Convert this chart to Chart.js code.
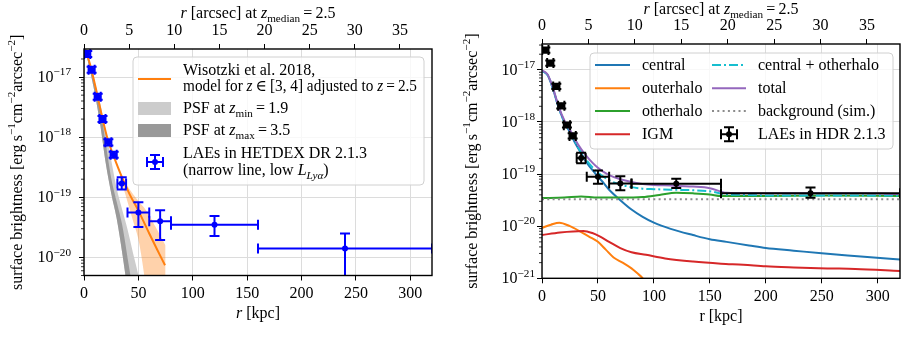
<!DOCTYPE html>
<html><head><meta charset="utf-8">
<script src="https://cdn.jsdelivr.net/npm/chart.js@4.4.1/dist/chart.umd.min.js"></script>
<style>
html,body{margin:0;padding:0;background:#fff;width:920px;height:339px;overflow:hidden}
canvas{position:absolute;top:0}
#c1{left:0}#c2{left:460px}
</style></head><body>
<canvas id="c1" width="460" height="339"></canvas>
<canvas id="c2" width="460" height="339"></canvas>
<script>
// ---------- axis ticks ----------
const xTicksKpc = [0,50,100,150,200,250,300];
const xTicksArcsec = [0,5,10,15,20,25,30,35];
const yTickExpLeft = [-20,-19,-18,-17];
const yTickExpRight = [-21,-20,-19,-18,-17];
const kpcPerArcsec = 8.3;

// ---------- left panel: HETDEX DR 2.1.3 LAEs ----------
const laeR    = [3,7,12.6,17,22.4,27.3,34.7,50,70,120,240];
const laeRlo  = [0.2,4.2,9.8,14.2,19.6,24.5,30.7,40,60,80,160];
const laeRhi  = [5.8,9.8,15.4,19.8,25.2,30.1,38.7,60,80,160,320];
const laeSB   = [2.42e-17,1.32e-17,4.7e-18,2.0e-18,8.2e-19,5.1e-19,1.7e-19,5.6e-20,4.0e-20,3.5e-20,1.4e-20];
const laeSBhi = [2.72e-17,1.48e-17,5.3e-18,2.25e-18,9.2e-19,5.7e-19,2.15e-19,8.3e-20,6.1e-20,4.9e-20,2.5e-20];
const laeSBlo = [2.16e-17,1.18e-17,4.2e-18,1.78e-18,7.3e-19,4.55e-19,1.35e-19,3.2e-20,1.95e-20,2.26e-20,1e-23];

// Wisotzki et al. 2018 model
const wisR  = [0.5,3,7,12,17,22,27,35,42,50,60,67,74.5];
const wisSB = [2.69e-17,2.29e-17,1.29e-17,5.25e-18,2.04e-18,8.9e-19,5.0e-19,2.14e-19,1.12e-19,6.0e-20,2.5e-20,1.38e-20,7.4e-21];
const wisBandR  = [33,38,42,46,50,55,60,66,70,75];
const wisBandHi = [2.5e-19,1.74e-19,1.35e-19,1.07e-19,8.7e-20,6.8e-20,5.0e-20,3.16e-20,2.34e-20,1.58e-20];
const wisBandLo = [2.24e-19,1.12e-19,6.3e-20,3.55e-20,2.0e-20,5.6e-21,1e-21,1e-22,1e-22,1e-22];

// PSF bands
const psfR = [0,5,10,15,20,25,30,35,40,45,50,55,60];
const psfMinZHi = [4.47e-17,1.91e-17,8.3e-18,3.55e-18,1.26e-18,4.17e-19,1.41e-19,6.3e-20,2.95e-20,1.2e-20,5.0e-21,1.58e-21,3.2e-22];
const psfMaxZHi = [3.98e-17,1.66e-17,6.8e-18,2.88e-18,7.9e-19,2.09e-19,8.5e-20,3.55e-20,1.0e-20,2.63e-21,5e-22,1e-22,1e-22];
const psfLo     = [3.55e-17,1.41e-17,5.25e-18,1.58e-18,3.7e-19,1.17e-19,4.47e-20,1.23e-20,2.75e-21,4e-22,1e-22,1e-22,1e-22];

// ---------- right panel: HDR 2.1.3 LAEs + simulation ----------
const hdrR    = [3,7.4,12.8,17.2,22.3,27.4,35,50,70,120,240];
const hdrRlo  = [0.2,4.6,10,14.4,19.5,24.6,31,40,60,80,160];
const hdrRhi  = [5.8,10.2,15.6,20,25.1,30.2,39,60,80,160,320];
const hdrSB   = [2.4e-17,1.35e-17,4.8e-18,2.04e-18,8.7e-19,5.4e-19,2.04e-19,8.9e-20,6.6e-20,6.5e-20,4.3e-20];
const hdrSBhi = [2.7e-17,1.51e-17,5.4e-18,2.29e-18,9.8e-19,6.1e-19,2.57e-19,1.17e-19,9.1e-20,8.1e-20,5.5e-20];
const hdrSBlo = [2.14e-17,1.2e-17,4.3e-18,1.82e-18,7.8e-19,4.8e-19,1.62e-19,6.5e-20,4.9e-20,5.4e-20,3.5e-20];

const modR = [0,5,10,15,20,25,30,35,40,45,50,55,60,70,80,90,100,115,135,150,165,185,200,225,250,285,320];
const centralSB = [9.55e-18,7.94e-18,4.17e-18,1.86e-18,1.0e-18,6.31e-19,3.8e-19,2.51e-19,1.66e-19,1.2e-19,8.9e-20,6.76e-20,5.0e-20,3.16e-20,2.09e-20,1.51e-20,1.17e-20,8.9e-21,6.76e-21,5.62e-21,5.0e-21,4.27e-21,3.8e-21,3.39e-21,3.02e-21,2.63e-21,2.29e-21];
const centralOtherSB = [9.55e-18,7.94e-18,4.17e-18,1.86e-18,1.0e-18,6.46e-19,3.98e-19,2.63e-19,1.82e-19,1.35e-19,1.07e-19,8.9e-20,7.59e-20,6.31e-20,5.62e-20,5.25e-20,5.13e-20,5.01e-20,4.9e-20,4.68e-20,4.07e-20,3.98e-20,3.89e-20,3.89e-20,3.89e-20,3.89e-20,3.89e-20];
const totalSB = [9.77e-18,8.13e-18,4.37e-18,1.95e-18,1.07e-18,7.08e-19,4.47e-19,3.02e-19,2.19e-19,1.66e-19,1.32e-19,1.1e-19,9.55e-20,7.94e-20,7.08e-20,6.46e-20,6.17e-20,6.03e-20,5.75e-20,5.37e-20,4.37e-20,4.27e-20,4.27e-20,4.27e-20,4.27e-20,4.27e-20,4.17e-20];
const otherR  = [0,20,35,50,70,90,105,120,135,150,160,180,200,250,320];
const otherSB = [3.47e-20,3.55e-20,3.72e-20,3.55e-20,3.55e-20,3.63e-20,3.98e-20,4.37e-20,4.27e-20,4.07e-20,3.8e-20,3.8e-20,3.8e-20,3.89e-20,3.8e-20];
const outerR  = [0,8,15.5,25,34,42,50,57,64,72,80,85,90,96];
const outerSB = [9.33e-21,1.07e-20,1.17e-20,1.0e-20,7.94e-21,6.31e-21,5.01e-21,3.55e-21,2.51e-21,2.0e-21,1.55e-21,1.26e-21,1.0e-21,6.3e-22];
const igmR  = [0,16,37,45,52,60,70,80,93,110,135,160,180,200,225,255,280,320];
const igmSB = [6.76e-21,7.59e-21,8.13e-21,7.41e-21,6.31e-21,5.01e-21,3.8e-21,3.16e-21,2.82e-21,2.4e-21,2.09e-21,1.91e-21,1.82e-21,1.7e-21,1.62e-21,1.55e-21,1.51e-21,1.38e-21];
const bgR  = [0,320];
const bgSB = [3.3e-20,3.3e-20];

// ---------- helpers ----------
const SER = '"Liberation Serif","DejaVu Serif",serif';
const FS = 16;
const C = {blue:'#1f77b4',orange:'#ff7f0e',green:'#2ca02c',red:'#d62728',purple:'#9467bd',cyan:'#17becf'};
function pts(xs, ys){ return xs.map((x,i)=>({x:x, y:ys[i]})); }
function fnt(size, it){ return (it?'italic ':'')+size+'px '+SER; }
function rw(ctx, parts, S){ let w=0; for(const p of parts){ ctx.font=fnt(p.s?S*0.7:S,p.i); w+=ctx.measureText(p.t).width; } return w; }
function rich(ctx, parts, x, y, S, align, maxW){
  const w0 = rw(ctx, parts, S);
  const k = (maxW && w0>maxW) ? maxW/w0 : 1;
  const w = w0*k;
  let cx = align==='center' ? x-w/2 : align==='right' ? x-w : x;
  ctx.save(); ctx.translate(cx,y); ctx.scale(k,1);
  ctx.textAlign='left'; ctx.textBaseline='alphabetic'; ctx.fillStyle='#000';
  let px=0;
  for(const p of parts){
    const sz = p.s?S*0.7:S; ctx.font=fnt(sz,p.i);
    const dy = p.s==='sub' ? S*0.22 : p.s==='sup' ? -S*0.42 : 0;
    ctx.fillText(p.t, px, dy); px += ctx.measureText(p.t).width;
  }
  ctx.restore();
}
function seg(ctx,x0,y0,x1,y1,col,lw,dash){ ctx.save(); ctx.strokeStyle=col; ctx.lineWidth=lw; ctx.setLineDash(dash||[]); ctx.beginPath(); ctx.moveTo(x0,y0); ctx.lineTo(x1,y1); ctx.stroke(); ctx.restore(); }
function rbox(ctx,x,y,w,h,r){
  ctx.save(); ctx.beginPath(); ctx.moveTo(x+r,y); ctx.arcTo(x+w,y,x+w,y+h,r); ctx.arcTo(x+w,y+h,x,y+h,r); ctx.arcTo(x,y+h,x,y,r); ctx.arcTo(x,y,x+w,y,r); ctx.closePath();
  ctx.fillStyle='rgba(255,255,255,0.8)'; ctx.fill(); ctx.strokeStyle='#d0d0d0'; ctx.lineWidth=1; ctx.stroke(); ctx.restore();
}
function errSym(ctx,x,y,col){
  ctx.save(); ctx.strokeStyle=col; ctx.lineWidth=2; ctx.beginPath();
  ctx.moveTo(x-8,y); ctx.lineTo(x+8,y); ctx.moveTo(x,y-7); ctx.lineTo(x,y+7);
  ctx.moveTo(x-8,y-5); ctx.lineTo(x-8,y+5); ctx.moveTo(x+8,y-5); ctx.lineTo(x+8,y+5);
  ctx.moveTo(x-5,y-7); ctx.lineTo(x+5,y-7); ctx.moveTo(x-5,y+7); ctx.lineTo(x+5,y+7);
  ctx.stroke(); ctx.fillStyle=col; ctx.beginPath(); ctx.arc(x,y,3,0,Math.PI*2); ctx.fill(); ctx.restore();
}
const TS = '\u2009';
const yTitle = [{t:'surface brightness [erg'+TS+'s'},{t:'\u22121',s:'sup'},{t:'cm'},{t:'\u22122',s:'sup'},{t:'arcsec'},{t:'\u22122',s:'sup'},{t:']'}];
const topTitle = [{t:'r',i:1},{t:' [arcsec] at '},{t:'z',i:1},{t:'median',s:'sub'},{t:TS+'='+TS+'2.5'}];

function deco(P){
  return {
    id:'deco',
    afterDatasetsDraw(chart){
      const ctx=chart.ctx, xs=chart.scales.x, ys=chart.scales.y, a=chart.chartArea, E=P.err;
      ctx.save(); ctx.beginPath(); ctx.rect(a.left,a.top,a.right-a.left,a.bottom-a.top); ctx.clip();
      ctx.strokeStyle=E.color; ctx.lineWidth=2; const cap=5;
      for(let i=0;i<E.r.length;i++){
        const x=xs.getPixelForValue(E.r[i]), y=ys.getPixelForValue(E.sb[i]);
        const x0=xs.getPixelForValue(E.rlo[i]), x1=xs.getPixelForValue(E.rhi[i]);
        const y0=ys.getPixelForValue(E.sblo[i]), y1=ys.getPixelForValue(E.sbhi[i]);
        ctx.beginPath();
        ctx.moveTo(x0,y); ctx.lineTo(x1,y); ctx.moveTo(x,y0); ctx.lineTo(x,y1);
        ctx.moveTo(x0,y-cap); ctx.lineTo(x0,y+cap); ctx.moveTo(x1,y-cap); ctx.lineTo(x1,y+cap);
        ctx.moveTo(x-cap,y0); ctx.lineTo(x+cap,y0); ctx.moveTo(x-cap,y1); ctx.lineTo(x+cap,y1);
        ctx.stroke();
      }
      ctx.restore();
    },
    afterDraw(chart){
      const ctx=chart.ctx, ys=chart.scales.y, a=chart.chartArea;
      ctx.save(); ctx.strokeStyle='#000'; ctx.lineWidth=0.8;
      for(let e=-23;e<=-16;e++) for(let k=2;k<=9;k++){
        const v=k*Math.pow(10,e); if(v<P.yMin||v>P.yMax) continue;
        const py=ys.getPixelForValue(v); ctx.beginPath(); ctx.moveTo(a.left-3,py); ctx.lineTo(a.left,py); ctx.stroke();
      }
      ctx.restore();
      ctx.save(); ctx.strokeStyle='#000'; ctx.lineWidth=1.4; ctx.strokeRect(a.left,a.top,a.right-a.left,a.bottom-a.top); ctx.restore();
      for(const e of P.yExps){
        const py=ys.getPixelForValue(Math.pow(10,e));
        rich(ctx,[{t:'10'},{t:'\u2212'+(-e),s:'sup'}],a.left-P.yLabGap,py+5,FS,'right');
      }
      ctx.save(); ctx.translate(P.yTitleX,(a.top+a.bottom)/2); ctx.rotate(-Math.PI/2);
      rich(ctx,yTitle,0,0,FS,'center'); ctx.restore();
      rich(ctx,topTitle,(a.left+a.right)/2,P.topTitleY,FS,'center');
      rich(ctx,P.xTitle,(a.left+a.right)/2,P.xTitleY,FS,'center');
      P.legend(ctx);
    }
  };
}

function panel(id, P){
  const W=460, H=339;
  const gridBase = {color:'#dcdcdc',lineWidth:1,drawTicks:true,tickLength:5,tickColor:'#000',tickWidth:1};
  return new Chart(document.getElementById(id), {
    type:'scatter',
    data:{datasets:P.datasets},
    options:{
      responsive:false, animation:false, devicePixelRatio:1, events:[],
      layout:{padding:{left:0,top:0,right:W-P.area.right,bottom:0}},
      plugins:{legend:{display:false},tooltip:{enabled:false}},
      scales:{
        x:{type:'linear',position:'bottom',min:0,max:320,
          afterBuildTicks:s=>{s.ticks=xTicksKpc.map(v=>({value:v}));},
          afterFit:s=>{s.height=H-P.area.bottom;},
          ticks:{font:{family:SER,size:FS},color:'#000',padding:P.xPad,autoSkip:false,maxRotation:0,includeBounds:false},
          grid:gridBase, border:{display:false}},
        x2:{type:'linear',position:'top',min:0,max:320/kpcPerArcsec,
          afterBuildTicks:s=>{s.ticks=xTicksArcsec.map(v=>({value:v}));},
          afterFit:s=>{s.height=P.area.top;},
          ticks:{font:{family:SER,size:FS},color:'#000',padding:P.x2Pad,autoSkip:false,maxRotation:0,includeBounds:false},
          grid:Object.assign({},gridBase,{drawOnChartArea:false}), border:{display:false}},
        y:{type:'logarithmic',position:'left',min:P.yMin,max:P.yMax,
          afterBuildTicks:s=>{s.ticks=P.yExps.map(e=>({value:Math.pow(10,e)}));},
          afterFit:s=>{s.width=P.area.left;},
          ticks:{display:false},
          grid:gridBase, border:{display:false}}
      }
    },
    plugins:[deco(P)]
  });
}

function lineDS(xs,ys,col,order,extra){
  return Object.assign({type:'scatter',data:pts(xs,ys),showLine:true,borderColor:col,backgroundColor:col,borderWidth:2,pointRadius:0,cubicInterpolationMode:'monotone',order:order,fill:false},extra||{});
}

// ---------- left panel ----------
panel('c1',{
  area:{left:84,right:432,top:49,bottom:275.5},
  yMin:5e-21, yMax:2.93e-17, yExps:yTickExpLeft, yLabGap:13, yTitleX:22,
  xPad:4, x2Pad:4, topTitleY:18, xTitleY:318,
  xTitle:[{t:'r',i:1},{t:' [kpc]'}],
  err:{r:laeR,rlo:laeRlo,rhi:laeRhi,sb:laeSB,sblo:laeSBlo,sbhi:laeSBhi,color:'#0000ff'},
  datasets:[
    {type:'scatter',data:pts(laeR,laeSB),pointRadius:3,pointBackgroundColor:'#0000ff',pointBorderWidth:0,order:0},
    lineDS(wisR,wisSB,C.orange,1),
    lineDS(wisBandR,wisBandHi,'rgba(0,0,0,0)',2,{borderWidth:0,fill:3,backgroundColor:'rgba(255,127,14,0.35)'}),
    lineDS(wisBandR,wisBandLo,'rgba(0,0,0,0)',3,{borderWidth:0}),
    lineDS(psfR,psfMaxZHi,'rgba(0,0,0,0)',4,{borderWidth:0,fill:6,backgroundColor:'#999999'}),
    lineDS(psfR,psfMinZHi,'rgba(0,0,0,0)',5,{borderWidth:0,fill:6,backgroundColor:'#cccccc'}),
    lineDS(psfR,psfLo,'rgba(0,0,0,0)',6,{borderWidth:0})
  ],
  legend(ctx){
    rbox(ctx,133,57,291,128,4);
    seg(ctx,138,79,171,79,C.orange,2);
    rich(ctx,[{t:'Wisotzki et al. 2018,'}],183,75,FS,'left');
    rich(ctx,[{t:'model for '},{t:'z',i:1},{t:TS+'\u2208'+TS+'[3, 4] adjusted to '},{t:'z',i:1},{t:TS+'='+TS+'2.5'}],183,91,FS,'left',234);
    ctx.fillStyle='#cccccc'; ctx.fillRect(138,102,33,13);
    rich(ctx,[{t:'PSF at '},{t:'z',i:1},{t:'min',s:'sub'},{t:TS+'='+TS+'1.9'}],183,113,FS,'left');
    ctx.fillStyle='#999999'; ctx.fillRect(138,124,33,13);
    rich(ctx,[{t:'PSF at '},{t:'z',i:1},{t:'max',s:'sub'},{t:TS+'='+TS+'3.5'}],183,135,FS,'left');
    errSym(ctx,155,162,'#0000ff');
    rich(ctx,[{t:'LAEs in HETDEX DR 2.1.3'}],183,158,FS,'left');
    rich(ctx,[{t:'(narrow line, low '},{t:'L',i:1},{t:'Ly\u03b1',s:'sub',i:1},{t:')'}],183,175,FS,'left');
  }
});

// ---------- right panel ----------
panel('c2',{
  area:{left:82,right:440,top:44,bottom:278.3},
  yMin:1e-21, yMax:3.14e-17, yExps:yTickExpRight, yLabGap:7, yTitleX:17,
  xPad:4, x2Pad:4, topTitleY:14, xTitleY:321,
  xTitle:[{t:'r [kpc]'}],
  err:{r:hdrR,rlo:hdrRlo,rhi:hdrRhi,sb:hdrSB,sblo:hdrSBlo,sbhi:hdrSBhi,color:'#000'},
  datasets:[
    {type:'scatter',data:pts(hdrR,hdrSB),pointRadius:3,pointBackgroundColor:'#000',pointBorderWidth:0,order:0},
    lineDS(bgR,bgSB,'#8c8c8c',1,{borderDash:[2,3.3]}),
    lineDS(modR,totalSB,C.purple,2),
    lineDS(modR,centralOtherSB,C.cyan,3,{borderDash:[9,3,2,3]}),
    lineDS(igmR,igmSB,C.red,4),
    lineDS(otherR,otherSB,C.green,5),
    lineDS(outerR,outerSB,C.orange,6),
    lineDS(modR,centralSB,C.blue,7)
  ],
  legend(ctx){
    rbox(ctx,130,53,303,96,4);
    const rows=[65,88.3,111,134.3];
    const c1=[['central',C.blue],['outerhalo',C.orange],['otherhalo',C.green],['IGM',C.red]];
    c1.forEach((d,i)=>{ seg(ctx,135,rows[i],170,rows[i],d[1],2); rich(ctx,[{t:d[0]}],182,rows[i]+5,FS,'left'); });
    seg(ctx,252,rows[0],286,rows[0],C.cyan,2,[9,3,2,3]);
    rich(ctx,[{t:'central + otherhalo'}],298,rows[0]+5,FS,'left');
    seg(ctx,252,rows[1],286,rows[1],C.purple,2);
    rich(ctx,[{t:'total'}],298,rows[1]+5,FS,'left');
    seg(ctx,252,rows[2],286,rows[2],'#8c8c8c',2,[2,3.3]);
    rich(ctx,[{t:'background (sim.)'}],298,rows[2]+5,FS,'left');
    errSym(ctx,269,rows[3],'#000');
    rich(ctx,[{t:'LAEs in HDR 2.1.3'}],298,rows[3]+5,FS,'left');
  }
});
</script></body></html>
